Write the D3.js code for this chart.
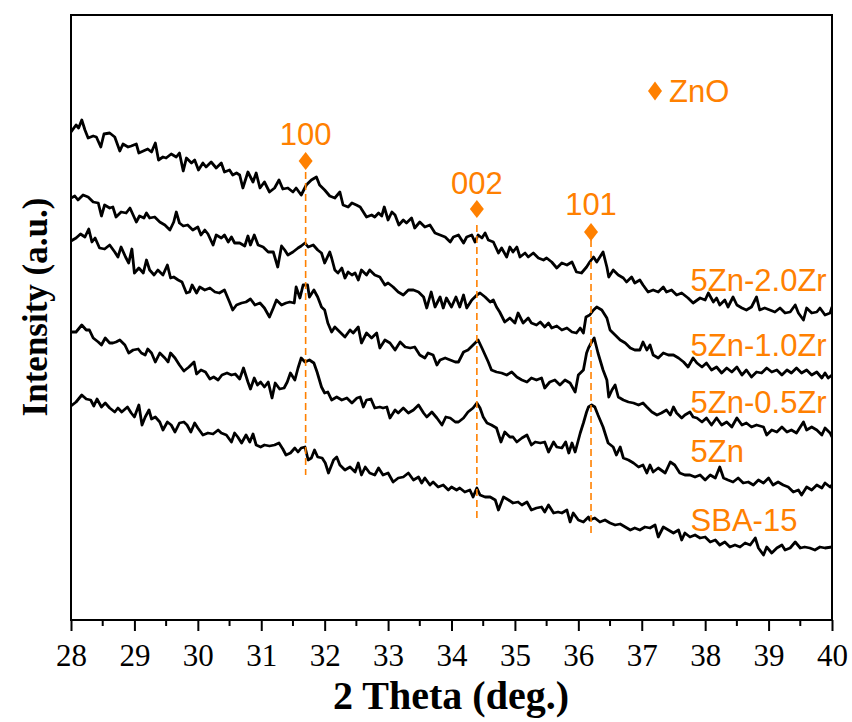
<!DOCTYPE html>
<html>
<head>
<meta charset="utf-8">
<script src="https://cdn.jsdelivr.net/npm/d3@7"></script>
<style>
  html, body { margin: 0; padding: 0; background: #fff; }
  svg { display: block; }
</style>
</head>
<body>
<svg id="chart" width="852" height="722"></svg>
<script>
// XRD patterns, 2θ (deg.) vs. intensity (a.u., stacked with offsets)
const pattern2Zr = [
  [28.00,488],[28.08,495],[28.12,492],[28.17,500],[28.22,490],[28.27,482],[28.35,484],[28.40,483],[28.47,473],[28.52,486],
  [28.61,487],[28.69,483],[28.77,469],[28.82,476],[28.90,473],[28.95,474],[29.03,476],[29.07,467],[29.14,469],[29.21,471],
  [29.27,468],[29.33,477],[29.38,460],[29.45,463],[29.50,462],[29.58,466],[29.66,463],[29.71,467],[29.77,449],[29.82,462],
  [29.90,457],[29.95,460],[30.01,450],[30.08,457],[30.13,453],[30.21,458],[30.29,452],[30.37,457],[30.42,448],[30.50,450],
  [30.55,445],[30.61,447],[30.66,445],[30.71,432],[30.79,448],[30.87,438],[30.92,447],[30.98,432],[31.05,438],[31.13,428],
  [31.21,432],[31.28,440],[31.34,431],[31.42,432],[31.50,428],[31.55,432],[31.63,425],[31.71,435],[31.79,440],[31.87,443],
  [31.92,435],[32.00,430],[32.08,424],[32.16,422],[32.24,428],[32.29,415],[32.37,413],[32.43,417],[32.50,415],[32.56,413],
  [32.61,408],[32.66,403],[32.74,405],[32.79,403],[32.85,407],[32.90,404],[32.94,413],[33.00,400],[33.06,408],[33.11,405],
  [33.17,395],[33.24,400],[33.29,397],[33.37,402],[33.42,392],[33.50,398],[33.58,393],[33.66,395],[33.74,387],[33.82,385],
  [33.90,383],[33.98,378],[34.03,383],[34.11,385],[34.19,377],[34.24,383],[34.32,385],[34.37,378],[34.42,385],[34.48,382],
  [34.53,387],[34.58,380],[34.66,378],[34.74,367],[34.79,372],[34.87,363],[34.92,373],[34.97,368],[35.03,373],[35.08,363],
  [35.16,367],[35.21,363],[35.29,367],[35.37,362],[35.45,360],[35.50,362],[35.58,358],[35.66,352],[35.74,357],[35.82,355],
  [35.90,358],[35.97,348],[36.05,347],[36.13,353],[36.18,358],[36.24,363],[36.29,358],[36.34,363],[36.39,368],[36.45,353],
  [36.48,343],[36.55,350],[36.63,345],[36.71,342],[36.76,338],[36.84,343],[36.89,337],[36.97,340],[37.02,335],[37.10,328],
  [37.18,330],[37.26,328],[37.34,333],[37.39,328],[37.47,330],[37.55,325],[37.63,327],[37.73,322],[37.81,317],[37.92,322],
  [38.00,320],[38.05,327],[38.13,318],[38.18,322],[38.23,315],[38.31,320],[38.36,313],[38.44,323],[38.50,315],[38.58,312],
  [38.65,310],[38.73,313],[38.81,323],[38.86,310],[38.94,312],[39.02,310],[39.10,308],[39.18,312],[39.26,307],[39.34,308],
  [39.42,315],[39.47,307],[39.55,300],[39.60,312],[39.68,307],[39.76,308],[39.81,312],[39.89,305],[39.97,307],[40.00,313]
];

const pattern1Zr = [
  [28.00,422],[28.06,424],[28.11,420],[28.19,425],[28.27,423],[28.35,418],[28.43,417],[28.48,404],[28.53,415],[28.61,412],
  [28.66,413],[28.71,403],[28.79,408],[28.87,407],[28.93,412],[28.98,405],[29.03,398],[29.08,404],[29.15,402],[29.19,407],
  [29.24,402],[29.32,403],[29.40,398],[29.48,395],[29.56,390],[29.62,398],[29.66,408],[29.71,397],[29.77,394],[29.84,395],
  [29.92,390],[30.00,393],[30.05,385],[30.11,390],[30.16,386],[30.24,375],[30.29,385],[30.37,382],[30.42,385],[30.48,378],
  [30.53,383],[30.58,377],[30.66,377],[30.74,374],[30.79,384],[30.83,375],[30.89,385],[30.95,375],[31.03,373],[31.11,368],
  [31.19,368],[31.26,353],[31.32,374],[31.37,370],[31.42,365],[31.50,368],[31.58,372],[31.63,374],[31.69,377],[31.74,373],
  [31.82,375],[31.89,370],[31.95,367],[32.00,357],[32.08,368],[32.11,362],[32.16,350],[32.21,347],[32.27,352],[32.32,342],
  [32.37,348],[32.43,345],[32.48,347],[32.53,340],[32.58,350],[32.66,345],[32.71,350],[32.79,345],[32.87,343],[32.95,335],
  [33.00,337],[33.08,333],[33.16,328],[33.24,325],[33.32,330],[33.40,330],[33.48,328],[33.56,323],[33.61,312],[33.68,328],
  [33.74,313],[33.82,323],[33.87,312],[33.92,322],[34.00,313],[34.07,323],[34.13,313],[34.19,325],[34.24,312],[34.32,320],
  [34.40,325],[34.45,327],[34.53,323],[34.61,318],[34.66,320],[34.71,313],[34.76,308],[34.84,298],[34.92,302],[35.00,297],
  [35.05,307],[35.13,297],[35.21,302],[35.26,297],[35.34,295],[35.40,298],[35.47,293],[35.53,297],[35.58,292],[35.66,294],
  [35.74,290],[35.82,292],[35.90,288],[35.97,287],[36.03,292],[36.08,287],[36.12,303],[36.18,305],[36.24,310],[36.29,313],
  [36.37,310],[36.45,302],[36.50,290],[36.58,285],[36.66,280],[36.74,277],[36.82,272],[36.89,270],[36.97,270],[37.02,278],
  [37.08,270],[37.13,275],[37.18,265],[37.26,262],[37.34,267],[37.42,265],[37.50,265],[37.58,262],[37.66,258],[37.73,253],
  [37.81,262],[37.87,257],[37.95,253],[38.02,257],[38.10,250],[38.18,253],[38.26,247],[38.34,252],[38.42,248],[38.50,253],
  [38.58,245],[38.65,250],[38.73,243],[38.81,248],[38.89,247],[38.97,252],[39.05,248],[39.13,250],[39.21,245],[39.29,250],
  [39.36,247],[39.44,252],[39.52,247],[39.60,250],[39.68,245],[39.76,248],[39.84,242],[39.89,247],[39.94,242],[40.00,245]
];

const pattern05Zr = [
  [28.00,379],[28.08,382],[28.15,386],[28.22,383],[28.28,391],[28.33,378],[28.38,382],[28.45,372],[28.53,371],[28.61,375],
  [28.69,368],[28.74,363],[28.79,373],[28.86,363],[28.91,357],[28.96,371],[29.00,347],[29.07,352],[29.14,347],[29.19,360],
  [29.24,350],[29.31,345],[29.37,350],[29.45,345],[29.52,355],[29.57,342],[29.62,343],[29.69,340],[29.75,338],[29.82,327],
  [29.87,328],[29.91,335],[29.98,327],[30.03,333],[30.11,330],[30.19,332],[30.27,328],[30.34,327],[30.42,330],[30.50,318],
  [30.55,310],[30.61,315],[30.69,317],[30.76,318],[30.83,321],[30.90,315],[30.98,317],[31.05,312],[31.13,303],[31.19,312],
  [31.24,320],[31.32,315],[31.39,317],[31.45,318],[31.52,317],[31.55,333],[31.61,322],[31.66,335],[31.73,335],[31.76,323],
  [31.83,330],[31.89,323],[31.95,313],[32.00,310],[32.05,297],[32.11,288],[32.16,293],[32.24,288],[32.32,283],[32.40,290],
  [32.45,287],[32.53,293],[32.58,277],[32.66,287],[32.74,282],[32.82,287],[32.87,272],[32.95,280],[33.03,277],[33.11,270],
  [33.19,278],[33.27,273],[33.35,272],[33.42,273],[33.50,265],[33.58,262],[33.63,267],[33.71,265],[33.77,255],[33.82,260],
  [33.90,262],[33.98,260],[34.06,258],[34.11,258],[34.19,268],[34.26,270],[34.34,275],[34.42,280],[34.48,272],[34.53,265],
  [34.58,258],[34.63,250],[34.71,248],[34.79,247],[34.87,245],[34.95,248],[35.03,243],[35.11,240],[35.19,238],[35.26,242],
  [35.34,240],[35.42,242],[35.47,232],[35.55,238],[35.63,240],[35.71,235],[35.79,240],[35.87,237],[35.95,228],[36.00,245],
  [36.08,250],[36.13,267],[36.16,272],[36.21,278],[36.25,282],[36.31,267],[36.39,250],[36.45,240],[36.48,223],[36.53,230],
  [36.58,235],[36.63,223],[36.71,220],[36.79,218],[36.87,217],[36.95,215],[37.02,217],[37.08,213],[37.16,208],[37.24,205],
  [37.31,207],[37.39,210],[37.45,205],[37.50,213],[37.55,207],[37.63,202],[37.68,205],[37.76,208],[37.81,203],[37.87,202],
  [37.95,198],[38.02,202],[38.10,195],[38.18,202],[38.26,195],[38.34,198],[38.42,193],[38.50,202],[38.58,195],[38.65,197],
  [38.73,193],[38.81,195],[38.92,193],[38.97,185],[39.05,190],[39.13,188],[39.21,193],[39.29,188],[39.36,190],[39.44,187],
  [39.55,198],[39.60,190],[39.68,193],[39.76,190],[39.84,185],[39.89,192],[39.97,187],[40.00,183]
];

const pattern5Zn = [
  [28.00,288],[28.08,288],[28.17,295],[28.24,290],[28.29,290],[28.35,282],[28.43,278],[28.48,275],[28.54,282],[28.61,277],
  [28.66,277],[28.71,278],[28.77,280],[28.85,275],[28.91,267],[28.98,270],[29.06,271],[29.11,267],[29.17,265],[29.21,271],
  [29.27,267],[29.33,258],[29.40,267],[29.48,262],[29.53,258],[29.57,267],[29.64,262],[29.71,255],[29.78,249],[29.86,253],
  [29.94,258],[29.98,246],[30.05,250],[30.12,248],[30.19,241],[30.25,243],[30.32,240],[30.38,245],[30.46,247],[30.53,245],
  [30.59,246],[30.66,241],[30.72,252],[30.79,238],[30.83,231],[30.89,242],[30.94,235],[30.99,238],[31.05,233],[31.11,238],
  [31.17,222],[31.22,237],[31.29,231],[31.36,232],[31.41,238],[31.46,247],[31.53,240],[31.58,252],[31.63,262],[31.69,258],
  [31.76,260],[31.83,257],[31.88,248],[31.95,233],[32.00,227],[32.05,228],[32.11,220],[32.19,223],[32.27,220],[32.35,222],
  [32.43,217],[32.51,222],[32.56,223],[32.61,213],[32.66,220],[32.73,221],[32.79,212],[32.87,213],[32.92,212],[32.98,213],
  [33.03,202],[33.11,210],[33.16,207],[33.24,212],[33.32,207],[33.40,210],[33.48,215],[33.56,207],[33.61,203],[33.69,208],
  [33.77,202],[33.85,195],[33.91,203],[33.98,202],[34.06,198],[34.11,198],[34.19,202],[34.26,208],[34.34,212],[34.40,217],
  [34.45,212],[34.50,203],[34.56,197],[34.63,195],[34.71,192],[34.78,178],[34.84,188],[34.92,183],[34.97,183],[35.03,178],
  [35.11,182],[35.19,185],[35.26,175],[35.32,178],[35.40,177],[35.47,178],[35.53,168],[35.61,178],[35.66,173],[35.74,172],
  [35.80,178],[35.85,167],[35.90,177],[35.95,168],[36.03,187],[36.08,197],[36.13,208],[36.16,213],[36.21,215],[36.26,213],
  [36.31,205],[36.39,193],[36.47,177],[36.55,173],[36.60,165],[36.66,173],[36.71,162],[36.79,160],[36.87,157],[36.95,153],
  [37.02,155],[37.08,147],[37.13,155],[37.18,148],[37.26,152],[37.37,147],[37.45,158],[37.52,155],[37.60,147],[37.68,145],
  [37.76,145],[37.84,143],[37.92,145],[38.00,140],[38.08,145],[38.16,142],[38.23,153],[38.29,142],[38.36,140],[38.44,138],
  [38.52,142],[38.60,137],[38.68,138],[38.76,135],[38.84,140],[38.92,137],[39.00,142],[39.07,135],[39.15,138],[39.23,135],
  [39.31,133],[39.39,128],[39.47,130],[39.52,125],[39.60,133],[39.68,130],[39.76,135],[39.84,132],[39.89,137],[39.97,133],
  [40.00,135]
];

const patternSBA = [
  [28.00,214],[28.08,218],[28.17,225],[28.24,221],[28.31,220],[28.36,214],[28.41,221],[28.48,213],[28.54,217],[28.61,212],
  [28.69,208],[28.74,212],[28.80,208],[28.89,213],[28.95,207],[29.00,203],[29.07,215],[29.12,195],[29.17,203],[29.23,210],
  [29.27,201],[29.33,203],[29.40,198],[29.45,190],[29.52,198],[29.58,195],[29.64,188],[29.71,197],[29.78,198],[29.83,195],
  [29.89,188],[29.95,197],[30.00,192],[30.08,185],[30.16,187],[30.24,186],[30.32,190],[30.37,187],[30.45,185],[30.53,178],
  [30.58,187],[30.63,183],[30.69,177],[30.76,185],[30.82,178],[30.87,186],[30.92,175],[30.99,173],[31.05,175],[31.13,174],
  [31.21,175],[31.28,177],[31.34,171],[31.39,165],[31.46,167],[31.53,172],[31.58,168],[31.63,172],[31.69,173],[31.74,160],
  [31.79,162],[31.84,170],[31.89,163],[31.96,162],[32.01,157],[32.06,147],[32.14,160],[32.19,163],[32.24,155],[32.32,150],
  [32.40,153],[32.48,148],[32.53,157],[32.58,145],[32.64,153],[32.71,147],[32.79,145],[32.85,152],[32.92,145],[33.00,147],
  [33.08,138],[33.16,142],[33.24,143],[33.32,147],[33.40,140],[33.48,143],[33.53,137],[33.58,142],[33.66,135],[33.71,138],
  [33.79,133],[33.87,135],[33.95,130],[34.00,133],[34.08,130],[34.13,132],[34.21,128],[34.29,130],[34.34,123],[34.40,132],
  [34.45,125],[34.53,123],[34.61,123],[34.69,120],[34.74,110],[34.82,123],[34.90,120],[34.97,117],[35.05,118],[35.11,115],
  [35.19,118],[35.26,110],[35.34,112],[35.42,113],[35.47,108],[35.53,115],[35.61,107],[35.68,108],[35.74,107],[35.82,110],
  [35.87,98],[35.92,107],[36.00,100],[36.08,98],[36.16,103],[36.18,100],[36.26,102],[36.34,98],[36.42,100],[36.50,97],
  [36.58,95],[36.66,96],[36.74,93],[36.82,90],[36.89,92],[36.97,90],[37.05,93],[37.13,92],[37.21,95],[37.26,83],
  [37.34,93],[37.42,90],[37.50,87],[37.58,90],[37.63,80],[37.68,87],[37.76,83],[37.84,85],[37.92,82],[38.00,83],
  [38.08,78],[38.16,80],[38.23,75],[38.31,78],[38.39,73],[38.47,75],[38.55,73],[38.63,77],[38.71,75],[38.79,82],
  [38.84,72],[38.92,65],[38.97,73],[39.05,67],[39.13,72],[39.21,75],[39.26,70],[39.34,72],[39.42,78],[39.50,72],
  [39.57,73],[39.65,72],[39.73,70],[39.81,73],[39.89,72],[40.00,73]
];

const sampleNames = ["5Zn-2.0Zr", "5Zn-1.0Zr", "5Zn-0.5Zr", "5Zn", "SBA-15"];
const patterns = [pattern2Zr, pattern1Zr, pattern05Zr, pattern5Zn, patternSBA];

// ZnO reflections (2θ) and their Miller indices
const zincOxidePeaks = [31.7, 34.4, 36.2];
const zincOxideHkl = ["100", "002", "101"];

const xTicks = [28, 29, 30, 31, 32, 33, 34, 35, 36, 37, 38, 39, 40];
const xMinorTicks = [28.5, 29.5, 30.5, 31.5, 32.5, 33.5, 34.5, 35.5, 36.5, 37.5, 38.5, 39.5];

// ---- layout ----
const W = 852, H = 722;
const margin = { top: 15, right: 20, bottom: 102, left: 71 };
const innerW = W - margin.left - margin.right;
const innerH = H - margin.top - margin.bottom;
const orange = "#ff8000";
const sansFont = "'Liberation Sans', Arial, sans-serif";
const serifFont = "'Liberation Serif', 'Times New Roman', serif";

const svg = d3.select("#chart");
const g = svg.append("g").attr("transform", `translate(${margin.left},${margin.top})`);

const x = d3.scaleLinear().domain([28, 40]).range([0, innerW]);
const y = d3.scaleLinear().domain([0, 605]).range([innerH, 0]);

g.append("clipPath").attr("id", "plot-clip")
  .append("rect").attr("width", innerW).attr("height", innerH);

// ---- patterns ----
const line = d3.line().x(d => x(d[0])).y(d => y(d[1]));
g.append("g").attr("clip-path", "url(#plot-clip)")
  .selectAll("path.pattern")
  .data(patterns)
  .join("path")
  .attr("class", "pattern")
  .attr("d", line)
  .attr("fill", "none")
  .attr("stroke", "#000")
  .attr("stroke-width", 2.8)
  .attr("stroke-linejoin", "round");

// ---- ZnO reference markers ----
const diamond = (cx, cy, hw, hh) => `M${cx},${cy - hh}L${cx + hw},${cy}L${cx},${cy + hh}L${cx - hw},${cy}Z`;
const guideSpan = [[448, 145], [395, 101], [380, 87]];   // intensity range of each guide line
const markerLevel = [459, 411, 388];                      // intensity level of each diamond
const labelLevel = [475, 426, 405];                       // baseline level of each hkl label

const peaks = g.append("g").attr("class", "zno-peaks");
zincOxidePeaks.forEach((p, i) => {
  peaks.append("line")
    .attr("x1", x(p)).attr("x2", x(p))
    .attr("y1", y(guideSpan[i][0])).attr("y2", y(guideSpan[i][1]))
    .attr("stroke", orange).attr("stroke-width", 1.6)
    .attr("stroke-dasharray", "7,4");
  peaks.append("path")
    .attr("d", diamond(x(p), y(markerLevel[i]), 7, 9))
    .attr("fill", orange);
  peaks.append("text")
    .attr("x", x(p)).attr("y", y(labelLevel[i]))
    .attr("text-anchor", "middle")
    .attr("font-family", sansFont).attr("font-size", 31)
    .attr("fill", orange)
    .text(zincOxideHkl[i]);
});

// legend entry
const legend = g.append("g").attr("transform", `translate(${655 - margin.left},${91 - margin.top})`);
legend.append("path").attr("d", diamond(0, 0, 7, 9.5)).attr("fill", orange);
legend.append("text").attr("x", 14).attr("y", 10.5)
  .attr("font-family", sansFont).attr("font-size", 31).attr("fill", orange)
  .text("ZnO");

// sample names
const nameLevels = [329, 264, 207, 158, 89];
g.append("g").selectAll("text")
  .data(sampleNames)
  .join("text")
  .attr("x", x(37.77))
  .attr("y", (d, i) => y(nameLevels[i]))
  .attr("font-family", sansFont).attr("font-size", 31)
  .attr("fill", orange)
  .text(d => d);

// ---- axes ----
const xAxis = g.append("g")
  .attr("transform", `translate(0,${innerH})`)
  .call(d3.axisBottom(x).tickValues(xTicks).tickSize(11).tickFormat(d3.format("d")));
xAxis.select(".domain").remove();
xAxis.selectAll(".tick line").attr("stroke", "#000").attr("stroke-width", 2);
xAxis.selectAll(".tick text")
  .attr("y", 46).attr("dy", null)
  .attr("font-family", serifFont).attr("font-size", 31).attr("fill", "#000");

g.append("g")
  .attr("transform", `translate(0,${innerH})`)
  .selectAll("line")
  .data(xMinorTicks)
  .join("line")
  .attr("x1", d => x(d)).attr("x2", d => x(d))
  .attr("y1", 0).attr("y2", 6)
  .attr("stroke", "#000").attr("stroke-width", 2);

// frame
g.append("rect")
  .attr("width", innerW).attr("height", innerH)
  .attr("fill", "none").attr("stroke", "#000").attr("stroke-width", 2);

// axis titles
svg.append("text")
  .attr("x", 451).attr("y", 709)
  .attr("text-anchor", "middle")
  .attr("font-family", serifFont).attr("font-weight", "bold").attr("font-size", 40)
  .text("2 Theta (deg.)");

svg.append("text")
  .attr("transform", "translate(47,307) rotate(-90)")
  .attr("text-anchor", "middle")
  .attr("font-family", serifFont).attr("font-weight", "bold").attr("font-size", 35)
  .text("Intensity (a.u.)");
</script>
</body>
</html>
